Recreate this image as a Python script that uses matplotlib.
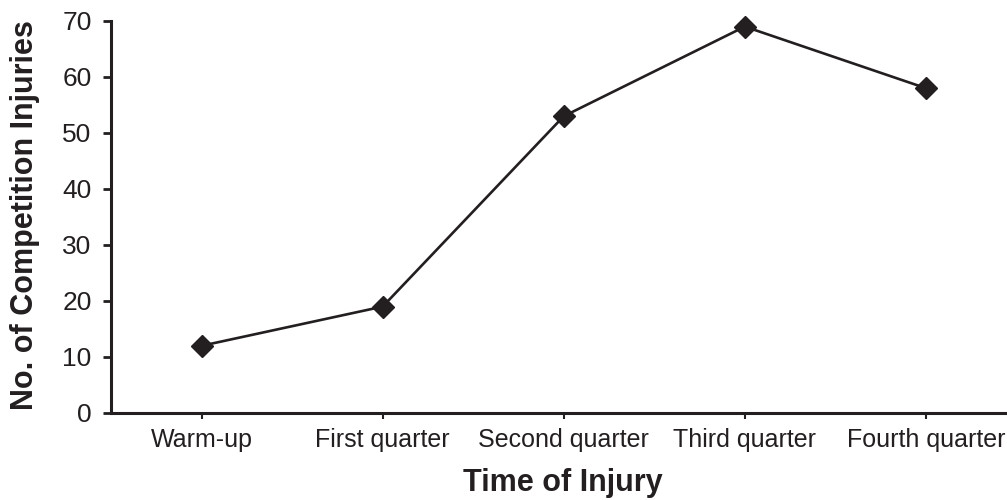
import matplotlib.pyplot as plt

# injuries by time of competition
periods = ['Warm-up', 'First quarter', 'Second quarter', 'Third quarter', 'Fourth quarter']
injuries = [12, 19, 53, 69, 58]

ink = '#231f20'
plt.rcParams['font.family'] = ['Liberation Sans', 'DejaVu Sans']

fig = plt.figure(figsize=(10.07, 5.0), dpi=100)
ax = fig.add_axes([111/1007, 87/500, 905.5/1007, 392/500])

x = range(len(periods))
ax.plot(x, injuries, color=ink, linewidth=1.9, marker='D', markersize=11.5,
        markerfacecolor=ink, markeredgecolor=ink, clip_on=False)

ax.set_xlim(-0.5, len(periods) - 0.5)
ax.set_ylim(0, 70)
ax.set_yticks(range(0, 71, 10))
ax.set_xticks(list(x))
ax.set_xticklabels(periods)

for s in ['top', 'right']:
    ax.spines[s].set_visible(False)
for s in ['left', 'bottom']:
    ax.spines[s].set_linewidth(2.2)
    ax.spines[s].set_color(ink)

ax.tick_params(axis='y', length=6, width=2, colors=ink, labelsize=19, pad=8)
ax.tick_params(axis='x', length=4, width=1.5, colors=ink, labelsize=18, pad=7)

ax.set_ylabel('No. of Competition Injuries', fontsize=22, fontweight='bold', color=ink)
ax.set_xlabel('Time of Injury', fontsize=22, fontweight='bold', color=ink)
ax.xaxis.set_label_coords((563 - 111) / 905.5, -(468 - 413) / 392)
ax.yaxis.set_label_coords((40 - 111) / 905.5, (413 - 215) / 392)

fig.savefig('out.png', dpi=100)
